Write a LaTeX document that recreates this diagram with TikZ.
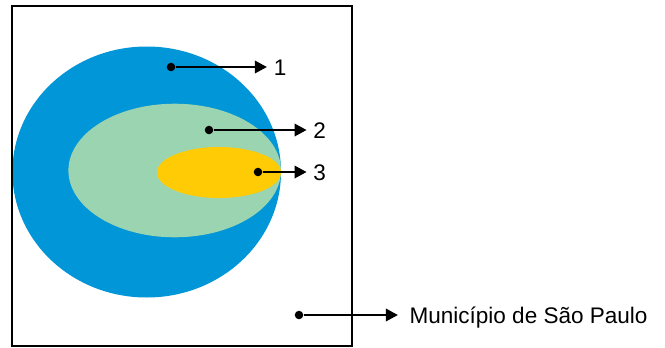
\documentclass[tikz,border=0pt]{standalone}
\usepackage{fontspec}
\setmainfont{Liberation Sans}
\usetikzlibrary{arrows.meta}
\definecolor{zoneblue}{RGB}{0,150,215}
\definecolor{zonegreen}{RGB}{154,212,176}
\definecolor{zoneyellow}{RGB}{255,203,5}
\tikzset{
dot/.style={circle, fill=black, inner sep=0pt, minimum size=6.4pt},
lbl/.style={anchor=west, inner sep=0pt, text height=12.1pt, text depth=0pt, font=\fontsize{16.9pt}{20pt}\selectfont},
pointer/.style={line width=1.1pt, -{Triangle[length=9pt,width=9.5pt]}, shorten >=5pt}
}

\begin{document}
\begin{tikzpicture}[x=0.75pt,y=-0.75pt]
\useasboundingbox (0,0) rectangle (665,347);

% Zonen
\fill[zoneblue] (146.7,172) ellipse [x radius=134.3, y radius=125.5];
\fill[zonegreen] (174.7,170.5) ellipse [x radius=106.3, y radius=66.8];
\fill[zoneyellow] (219,172.5) ellipse [x radius=62, y radius=25.5];
\draw[line width=0.8pt] (12,6) rectangle (352,346);

% Punkte
\node[dot] (p1) at (171,67) {};
\node[dot] (p2) at (209,130) {};
\node[dot] (p3) at (258,172) {};
\node[dot] (p4) at (299,315) {};

% Beschriftung
\node[lbl] (l1) at (273.5,67) {1};
\node[lbl] (l2) at (313.2,130) {2};
\node[lbl] (l3) at (313.2,172) {3};
\node[lbl] (l4) at (409.3,315) {Município de São Paulo};

\draw[pointer] (p1) -- (l1);
\draw[pointer] (p2) -- (l2);
\draw[pointer] (p3) -- (l3);
\draw[pointer, shorten >=8.6pt] (p4) -- (l4);
\end{tikzpicture}
\end{document}
